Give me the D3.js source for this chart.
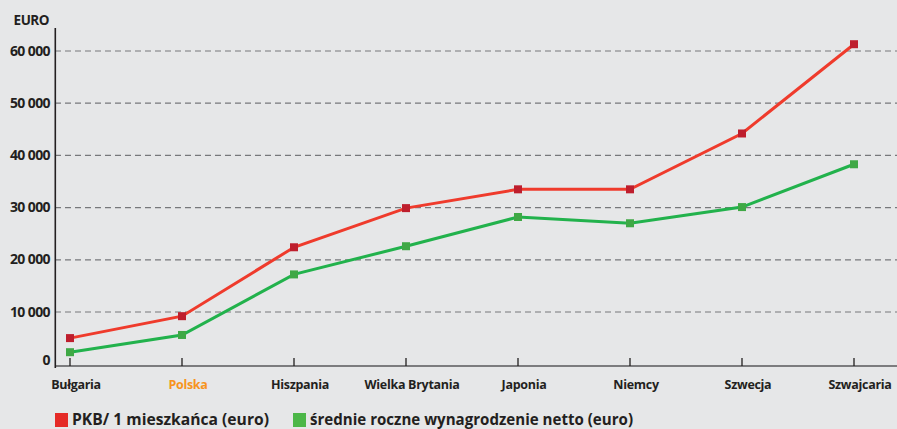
<!DOCTYPE html>
<html><head><meta charset="utf-8">
<script src="https://cdn.jsdelivr.net/npm/d3@7"></script>
<style>
html,body{margin:0;padding:0;background:#e6e7e8;}
svg{display:block;}
text{font-family:"Liberation Sans Narrow","Open Sans",sans-serif;font-weight:bold;fill:#231f20;}
</style></head>
<body><svg id="c" width="897" height="429"></svg>
<script>
const categories = ["Bułgaria","Polska","Hiszpania","Wielka Brytania","Japonia","Niemcy","Szwecja","Szwajcaria"];
const gdpPerCapita = [5000, 9200, 22400, 29900, 33500, 33500, 44200, 61300];
const netSalary = [2300, 5600, 17200, 22600, 28200, 27000, 30100, 38300];
const yTicks = [0, 10000, 20000, 30000, 40000, 50000, 60000];
const yTickLabels = ["0","10 000","20 000","30 000","40 000","50 000","60 000"];
const seriesNames = ["PKB/ 1 mieszkańca (euro)","średnie roczne wynagrodzenie netto (euro)"];
const unitLabel = "EURO";

const svg = d3.select("#c");
const W = 897, H = 429;
svg.append("rect").attr("width",W).attr("height",H).attr("fill","#e6e7e8");

const x = d3.scalePoint().domain(categories).range([70, 854]);
const y = d3.scaleLinear().domain([0, 60000]).range([364.2, 51]);

// grid
svg.append("g").selectAll("line").data(yTicks.filter(d=>d>0)).join("line")
  .attr("x1",55).attr("x2",W).attr("y1",d=>y(d)).attr("y2",d=>y(d))
  .attr("stroke","#77787b").attr("stroke-width",1.2).attr("stroke-dasharray","6,4");

// y labels
svg.append("g").selectAll("text").data(yTicks).join("text")
  .attr("x",50).attr("y",d=>d===0 ? y(d)+1 : y(d)+4.5).attr("text-anchor","end")
  .attr("font-size",14).style("font-family","'Open Sans',sans-serif").style("letter-spacing","-0.6px")
  .text((d,i)=>yTickLabels[i]);
svg.append("text").attr("x",49).attr("y",25).attr("text-anchor","end")
  .attr("font-size",13.5).style("font-family","'Open Sans',sans-serif").style("letter-spacing","-0.5px").text(unitLabel);

// axes
svg.append("line").attr("x1",55).attr("x2",W).attr("y1",366).attr("y2",366)
  .attr("stroke","#58595b").attr("stroke-width",1.5);
svg.append("g").selectAll("line").data(categories).join("line")
  .attr("x1",d=>x(d)).attr("x2",d=>x(d)).attr("y1",358).attr("y2",366)
  .attr("stroke","#231f20").attr("stroke-width",1.3);
svg.append("line").attr("x1",55.3).attr("x2",55.3).attr("y1",28).attr("y2",368)
  .attr("stroke","#231f20").attr("stroke-width",1.6);

// x labels
svg.append("g").selectAll("text").data(categories).join("text")
  .attr("x",d=>x(d)+6).attr("y",389).attr("text-anchor","middle")
  .attr("font-size",12.5).style("letter-spacing","-0.3px")
  .style("fill",d=>d==="Polska"?"#f7941d":"#231f20")
  .text(d=>d);

// lines
const line = d3.line().x((d,i)=>x(categories[i])).y(d=>y(d));
const series = [
  {vals: gdpPerCapita, stroke:"#ef3b2c", marker:"#be1e2d"},
  {vals: netSalary, stroke:"#22b24c", marker:"#3fa845"}
];
series.forEach(s=>{
  svg.append("path").attr("d",line(s.vals)).attr("fill","none")
    .attr("stroke",s.stroke).attr("stroke-width",3);
  svg.append("g").selectAll("rect").data(s.vals).join("rect")
    .attr("x",(d,i)=>x(categories[i])-4).attr("y",d=>y(d)-4)
    .attr("width",8).attr("height",8).attr("fill",s.marker);
});

// legend
const leg = [
  {x:55, color:"#e52b27", name:seriesNames[0], len:197},
  {x:293, color:"#4cb748", name:seriesNames[1], len:323}
];
leg.forEach(l=>{
  svg.append("rect").attr("x",l.x).attr("y",413).attr("width",13).attr("height",14).attr("fill",l.color);
  svg.append("text").attr("x",l.x+17).attr("y",424.5).attr("font-size",16.5)
    .style("font-family","'Open Sans',sans-serif")
    .attr("textLength",l.len).attr("lengthAdjust","spacingAndGlyphs")
    .text(l.name);
});
</script></body></html>
